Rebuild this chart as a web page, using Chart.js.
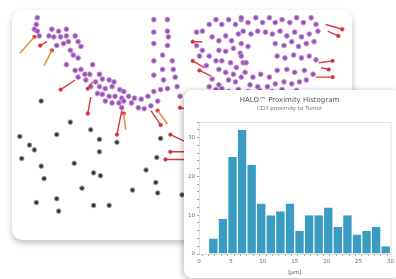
<!DOCTYPE html>
<html>
<head>
<meta charset="utf-8">
<script src="https://cdn.jsdelivr.net/npm/chart.js@4.4.1/dist/chart.umd.min.js"></script>
<style>
  html, body { margin: 0; padding: 0; background: #ffffff; }
  body { width: 396px; height: 279px; position: relative; overflow: hidden; font-family: "DejaVu Sans", sans-serif; }
  .card { position: absolute; background: #fff; overflow: hidden; }
  #backCard { left: 12px; top: 10px; width: 340px; height: 230px; border-radius: 10px;
    box-shadow: 0 3px 6px rgba(0,0,0,0.25); }
  #frontCard { left: 184px; top: 90px; width: 216px; height: 188px; border-radius: 8px;
    box-shadow: -1px 1px 6px rgba(0,0,0,0.3); }
  canvas { position: absolute; left: 0; top: 0; }
</style>
</head>
<body>
<div class="card" id="backCard"><canvas id="cellMap" width="340" height="230"></canvas></div>
<div class="card" id="frontCard"><canvas id="histo" width="212" height="188"></canvas></div>
<script>
// histogram data (bin centres in µm, counts)
const binCenters = [2.25, 3.75, 5.25, 6.75, 8.25, 9.75, 11.25, 12.75, 14.25, 15.75, 17.25, 18.75, 20.25, 21.75, 23.25, 24.75, 26.25, 27.75, 29.25];
const counts = [4, 9, 25, 32, 23, 13, 10, 11, 13, 6, 10, 10, 12, 7, 10, 5, 6, 7, 2];
const histTitle = 'HALO\u2122 Proximity Histogram';
const histSubtitle = 'CD3 proximity to Tumor';
const xAxisLabel = '[\u00b5m]';

// cell map: tumor cells (purple)
const tumorCells = [
  [33,13],[32,20],[30,25],[33,27],[35,32],[48,25],[55,27],[63,25],[45,32],[50,33],[57,33],[63,32],[72,32],
  [53,42],[60,40],[65,38],[75,38],[78,43],[67,47],[70,52],[75,55],[90,62],[63,62],[72,68],[78,67],[82,72],
  [75,75],[83,78],[87,72],[97,72],[100,77],[107,78],[112,80],[93,80],[88,85],[97,85],[103,87],[110,85],
  [118,88],[100,93],[107,95],[113,95],[120,97],[95,92],[103,100],[110,102],[117,102],
  [153,15],[167,15],[153,28],[167,27],[168,33],[153,40],[167,42],[162,52],[153,58],[172,58],[162,67],
  [173,67],[153,73],[163,78],[175,75],[167,87],[177,85],[180,95],
  [122,90],[127,95],[133,97],[140,98],[147,95],[153,90],[160,88],[130,102],[137,107],[143,108],[150,105],
  [157,100],[122,100],[120,107],
  [197,28],[203,27],[197,42],[203,47],[200,53],[210,53],[207,63],[217,58],[220,67],[227,70],[230,78],
  [237,80],[243,75],[213,77],[220,83],[210,20],[217,15],[223,20],[230,15],[237,20],[243,15],[213,33],
  [220,37],[227,32],[233,37],[240,30],[220,47],[227,48],[235,45],[242,50],[223,58],[232,60],[238,65],
  [245,60],[235,72],[210,85],[217,88],[223,87],[230,90],
  [243,13],[250,18],[258,13],[265,18],[272,13],[278,18],[285,15],[293,18],[300,13],[307,18],[315,13],[320,20],
  [245,27],[253,30],[260,27],[268,28],[275,30],[283,27],[290,32],[298,28],[305,33],[313,30],[322,27],
  [243,40],[250,43],[278,40],[287,42],[295,38],[302,43],[310,40],[318,38],
  [243,53],[248,60],[280,53],[288,55],[297,52],[305,55],[313,53],[320,57],
  [247,70],[255,75],[263,72],[272,75],[280,68],[290,67],[298,70],[308,68],[317,72],
  [252,83],[260,85],[270,85],[278,82],[287,80],[295,82],[303,80],[310,78],
  [240,88],[250,90],[262,89],[275,90],[285,88],[300,89]
];
// other cells (dark)
const otherCells = [
  [37,100],[67,122],[53,135],[88,130],[97,140],[97,153],[15,137],[25,146],[30,151],[17,160],[37,168],
  [71,165],[40,181],[91,175],[98,178],[79,191],[53,202],[32,206],[55,215],[91,209],[107,209],[115,143],
  [160,139],[156,159],[145,172],[155,185],[157,196],[131,193],[182,198]
];
// proximity links: [immune cell x, y, nearest tumor x, y]
const redLinks = [
  [36,42,43,38],[57,88,72,78],[85,113,88,96],[115,135,120,110],[160,125,150,110],[170,135,185,142],
  [170,153,185,153],[165,161,185,161],[180,107,186,108],[193,38,203,38],[193,58,205,65],[200,68,212,74],
  [347,25,330,20],[343,32,332,27],[337,58,323,60],[333,67,325,65],[337,75,320,75],[85,87,90,80]
];
const orangeLinks = [
  [15,50,30,33],[40,63,48,47],[124,130,122,113],[167,124,157,110]
];

// turn links into line data with gaps between segments
function linkLine(links) {
  const pts = [];
  links.forEach(l => {
    pts.push({x: l[0], y: l[1]}, {x: l[2], y: l[3]}, {x: NaN, y: NaN});
  });
  return pts;
}
const toPts = arr => arr.map(p => ({x: p[0], y: p[1]}));

new Chart(document.getElementById('cellMap'), {
  type: 'scatter',
  data: {
    datasets: [
      { data: linkLine(orangeLinks), showLine: true, borderColor: '#e9933f', borderWidth: 1.6, pointRadius: 0, spanGaps: false },
      { data: linkLine(redLinks), showLine: true, borderColor: '#d83a3e', borderWidth: 1.4, pointRadius: 0, spanGaps: false },
      { data: toPts(tumorCells), pointRadius: 2.4, backgroundColor: '#8a56bb', borderColor: '#d68bd3', borderWidth: 0.9 },
      { data: toPts(redLinks.map(l => [l[0], l[1]]).concat(orangeLinks.map(l => [l[2], l[3]]))), pointRadius: 1.9, backgroundColor: '#c9262e', borderColor: '#e8707a', borderWidth: 0.6 },
      { data: toPts(otherCells), pointRadius: 2.3, backgroundColor: '#383838', borderColor: '#a0a0a0', borderWidth: 0.9 }
    ]
  },
  options: {
    responsive: false, animation: false, events: [],
    layout: { padding: 0 },
    plugins: { legend: { display: false }, tooltip: { enabled: false } },
    scales: {
      x: { type: 'linear', min: 12, max: 352, display: false },
      y: { type: 'linear', min: 10, max: 240, reverse: true, display: false }
    }
  }
});

// light frame round the plot area
const frame = {
  id: 'frame',
  afterDraw(chart) {
    const a = chart.chartArea, c = chart.ctx;
    c.save();
    c.strokeStyle = '#d6d6d6';
    c.lineWidth = 0.8;
    c.strokeRect(a.left + 0.5, a.top + 0.5, a.right - a.left, a.bottom - a.top);
    c.restore();
  }
};

new Chart(document.getElementById('histo'), {
  type: 'bar',
  data: {
    datasets: [{
      data: binCenters.map((x, i) => ({x: x, y: counts[i]})),
      backgroundColor: '#3a9cc3',
      borderColor: '#ffffff',
      borderWidth: {left: 0.6, right: 0.6, top: 0, bottom: 0},
      // ticks every 1 µm set the ruler; bins are 1.5 µm wide
      barPercentage: 1.5, categoryPercentage: 1, grouped: false
    }]
  },
  plugins: [frame],
  options: {
    responsive: false, animation: false, events: [],
    layout: { padding: { left: 2, right: 3, top: 0, bottom: 2 } },
    plugins: {
      legend: { display: false }, tooltip: { enabled: false },
      title: { display: true, text: histTitle, color: '#555', font: { family: 'DejaVu Sans', size: 7, weight: 'normal' }, padding: { top: 6, bottom: 1 } },
      subtitle: { display: true, text: histSubtitle, color: '#777', font: { family: 'DejaVu Sans', size: 5.5 }, padding: { top: 0, bottom: 10 } }
    },
    scales: {
      x: {
        type: 'linear', min: 0, max: 30, offset: false,
        ticks: { stepSize: 1, autoSkip: false, maxRotation: 0, color: '#666', font: { family: 'DejaVu Sans', size: 5.5 }, padding: 2,
          callback: v => (v % 5 === 0 ? String(v) : '') },
        grid: { drawOnChartArea: false, tickLength: 2, color: '#999' },
        border: { display: false },
        title: { display: true, text: xAxisLabel, color: '#555', font: { family: 'DejaVu Sans', size: 5.5 }, padding: { top: 0, bottom: 0 } },
        afterFit: s => { s.height = 22; }
      },
      y: {
        min: 0, max: 34,
        ticks: { stepSize: 2, autoSkip: false, color: '#666', font: { family: 'DejaVu Sans', size: 5.5 }, padding: 2,
          callback: v => (v % 10 === 0 ? String(v) : '') },
        grid: { drawOnChartArea: false, tickLength: 2, color: '#999' },
        border: { display: false },
        afterFit: s => { s.width = 13; }
      }
    }
  }
});
</script>
</body>
</html>
